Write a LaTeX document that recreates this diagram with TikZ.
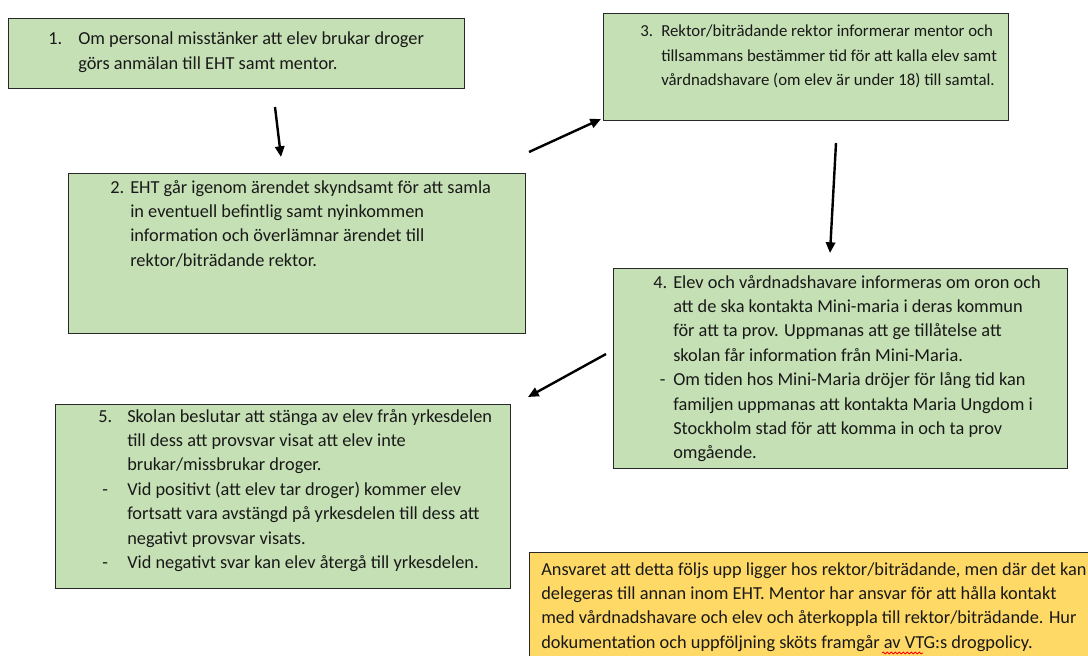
\documentclass[tikz,border=0pt]{standalone}
\usepackage{fontspec}
\setmainfont{Carlito}
\usepackage{tikz}
\usetikzlibrary{arrows.meta,decorations.pathmorphing}
\definecolor{gron}{RGB}{197,224,180}
\definecolor{gul}{RGB}{255,217,102}
\definecolor{kant}{RGB}{40,40,40}
\definecolor{skrift}{RGB}{25,25,25}

\begin{document}
\begin{tikzpicture}[x=0.75pt,y=-0.75pt,
  ruta/.style={draw=kant, line width=1pt, anchor=north west, inner sep=0pt},
  gronruta/.style={ruta, fill=gron},
  gulruta/.style={ruta, fill=gul},
  txt/.style={anchor=base west, inner sep=0pt, text=skrift,
    font=\fontsize{13.75}{18.3}\selectfont},
  liten/.style={font=\fontsize{12.6}{18.3}\selectfont},
  pil/.style={-{Triangle[length=8pt,width=7pt]}, line width=1.8pt}]
  \useasboundingbox (0,0) rectangle (1088,656);
  \clip (0,0) rectangle (1088,656);

  % Rutor
  \node[gronruta, minimum width=342pt,    minimum height=52.5pt]  (b1) at (8,18)    {};
  \node[gronruta, minimum width=342.75pt, minimum height=120pt]   (b2) at (68,173)  {};
  \node[gronruta, minimum width=303.75pt, minimum height=80.25pt] (b3) at (603,13)  {};
  \node[gronruta, minimum width=340.5pt,  minimum height=150pt]   (b4) at (613,268) {};
  \node[gronruta, minimum width=341.25pt, minimum height=138pt]   (b5) at (55,404)  {};
  \node[gulruta,  minimum width=428.25pt, minimum height=88.5pt]  (b6) at (529,552) {};

  % Texter
  \node[txt] (t1) at ([shift={(40,27)}]b1.north west) {\begin{tabular}[t]{@{}p{22.5pt}@{}l@{}}
    1. & Om personal misstänker att elev brukar droger\\
       & görs anmälan till EHT samt mentor.
  \end{tabular}};
  \node[txt] (t2) at ([shift={(42,20)}]b2.north west) {\begin{tabular}[t]{@{}p{15pt}@{}l@{}}
    2. & EHT går igenom ärendet skyndsamt för att samla\\
       & in eventuell befintlig samt nyinkommen\\
       & information och överlämnar ärendet till\\
       & rektor/biträdande rektor.
  \end{tabular}};
  \node[txt, liten] (t3) at ([shift={(37,24)}]b3.north west) {\begin{tabular}[t]{@{}p{15.75pt}@{}l@{}}
    3. & Rektor/biträdande rektor informerar mentor och\\
       & tillsammans bestämmer tid för att kalla elev samt\\
       & vårdnadshavare (om elev är under 18) till samtal.
  \end{tabular}};
  \node[txt] (t4) at ([shift={(40,20)}]b4.north west) {\begin{tabular}[t]{@{}p{15pt}@{}l@{}}
    4. & Elev och vårdnadshavare informeras om oron och\\
       & att de ska kontakta Mini-maria i deras kommun\\
       & för att ta prov. Uppmanas att ge tillåtelse att\\
       & skolan får information från Mini-Maria.\\
    \hspace{5pt}- & Om tiden hos Mini-Maria dröjer för lång tid kan\\
       & familjen uppmanas att kontakta Maria Ungdom i\\
       & Stockholm stad för att komma in och ta prov\\
       & omgående.
  \end{tabular}};
  \node[txt] (t5) at ([shift={(43,18)}]b5.north west) {\begin{tabular}[t]{@{}p{21.75pt}@{}l@{}}
    5. & Skolan beslutar att stänga av elev från yrkesdelen\\
       & till dess att provsvar visat att elev inte\\
       & brukar/missbrukar droger.\\
    \hspace{3pt}- & Vid positivt (att elev tar droger) kommer elev\\
       & fortsatt vara avstängd på yrkesdelen till dess att\\
       & negativt provsvar visats.\\
    \hspace{3pt}- & Vid negativt svar kan elev återgå till yrkesdelen.
  \end{tabular}};
  \node[txt] (t6) at ([shift={(12,23)}]b6.north west) {\begin{tabular}[t]{@{}l@{}}
    Ansvaret att detta följs upp ligger hos rektor/biträdande, men där det kan\\
    delegeras till annan inom EHT. Mentor har ansvar för att hålla kontakt\\
    med vårdnadshavare och elev och återkoppla till rektor/biträdande. Hur\\
    dokumentation och uppföljning sköts framgår av VTG:s drogpolicy.
  \end{tabular}};
  \draw[red, line width=0.6pt, decorate, decoration={snake, amplitude=0.7pt, segment length=3pt}]
    (882,653) -- (923,653);

  % Pilar
  \coordinate (p1a) at (275,107); \coordinate (p1b) at (281,157);
  \coordinate (p2a) at (529,152); \coordinate (p2b) at (601,119);
  \coordinate (p3a) at (836,143); \coordinate (p3b) at (830,253);
  \coordinate (p4a) at (606,354); \coordinate (p4b) at (528,397);
  \draw[pil] (p1a) -- (p1b);
  \draw[pil] (p2a) -- (p2b);
  \draw[pil] (p3a) -- (p3b);
  \draw[pil] (p4a) -- (p4b);

\end{tikzpicture}
\end{document}
